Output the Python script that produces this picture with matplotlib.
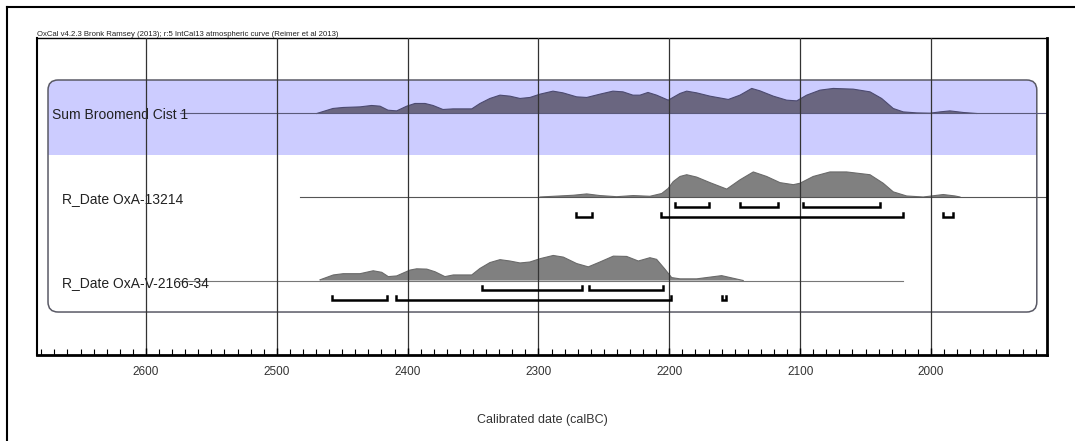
import matplotlib
matplotlib.use("Agg")
import matplotlib.pyplot as plt
from matplotlib.patches import FancyBboxPatch, Rectangle
from matplotlib.lines import Line2D
from matplotlib.ticker import MultipleLocator
import numpy as np

plt.rcParams['font.family'] = ['Liberation Sans', 'DejaVu Sans']

# --- data (calendar years BC, relative probability) ---
title = "OxCal v4.2.3 Bronk Ramsey (2013); r:5 IntCal13 atmospheric curve (Reimer et al 2013)"
labels = ["Sum Broomend Cist 1", "R_Date OxA-13214", "R_Date OxA-V-2166-34"]

sum_years = [2469.5, 2457.1, 2449.4, 2436.4, 2427.5, 2421.1, 2415.0, 2408.4, 2400.7, 2394.4,
             2386.7, 2380.6, 2373.0, 2365.3, 2351.0, 2344.7, 2337.1, 2329.4, 2321.8, 2314.1,
             2306.5, 2298.8, 2288.9, 2281.3, 2270.8, 2263.1, 2253.0, 2243.1, 2235.4, 2227.8,
             2222.4, 2216.3, 2209.7, 2200.8, 2191.8, 2186.7, 2179.1, 2168.9, 2154.9, 2146.0,
             2137.0, 2130.7, 2120.5, 2110.3, 2102.6, 2095.0, 2084.8, 2074.7, 2059.4, 2046.6,
             2037.7, 2028.8, 2021.2, 2010.9, 2000.7, 1993.1, 1985.5, 1975.3, 1965.1]
sum_prob = [0, 5, 6, 6.6, 8, 7.3, 3.3, 2.6, 7.3, 10,
            10, 8, 4, 4.6, 4.6, 10, 15, 18.3, 17.3, 15,
            16, 19.3, 22.3, 20.6, 16.6, 16, 19.3, 22.3, 21.6, 18.3,
            18.3, 21, 18.3, 13.3, 20, 22.3, 20.6, 17.3, 14, 18.3,
            25, 22.6, 17.3, 13.3, 12.6, 18.3, 23.3, 25, 24.3, 21.6,
            15, 5, 1.6, 0.6, 0.3, 1.6, 2.6, 1, 0]

oxa1_years = [2298.8, 2273.4, 2263.1, 2253.0, 2240.2, 2227.5, 2214.8, 2205.8, 2200.8, 2197.0,
              2191.8, 2186.7, 2179.1, 2168.9, 2156.1, 2146.0, 2135.8, 2125.6, 2115.4, 2105.2,
              2100.1, 2090.0, 2077.2, 2064.4, 2046.6, 2036.5, 2028.8, 2018.6, 2005.9, 1990.6,
              1981.6, 1977.8]
oxa1_prob = [0, 1.7, 3, 1.4, 0.3, 1.4, 0.7, 3.4, 8.4, 15,
             20, 21.7, 19.4, 14, 7.7, 16.7, 24.4, 20, 14, 12,
             13.4, 20, 24.4, 24.4, 21.7, 13.4, 5, 1, 0, 2.4,
             1, 0]

oxa2_years = [2467.0, 2456.8, 2449.2, 2436.4, 2426.3, 2419.8, 2414.8, 2408.4, 2398.2, 2393.1,
              2385.4, 2379.1, 2371.5, 2365.1, 2351.0, 2344.7, 2337.1, 2329.4, 2321.8, 2314.1,
              2306.5, 2298.8, 2288.7, 2281.0, 2270.8, 2261.9, 2253.0, 2242.8, 2232.6, 2223.7,
              2214.8, 2209.7, 2203.8, 2198.2, 2191.8, 2179.1, 2160.0, 2143.5]
oxa2_prob = [0.7, 5.7, 7, 7, 10, 8.4, 4, 4.7, 10.7, 12,
             11.7, 9, 4, 5.7, 5.7, 12.4, 18.4, 21.4, 20, 18,
             19, 22.4, 25.7, 24, 17.4, 14, 19, 25, 24.7, 20,
             23.4, 21.7, 12.4, 3, 1.7, 1.7, 5, 0]

# baseline extents (start, end)
line_spans = [(2574, 1911.3), (2482, 1911.3), (2574, 2021)]

# highest posterior density ranges
oxa1_68 = [(2196, 2170), (2146, 2117), (2098, 2039)]
oxa1_95 = [(2271, 2259), (2206, 2021), (1991, 1983)]
oxa2_68 = [(2343, 2267), (2261, 2205)]
oxa2_95 = [(2458, 2416), (2409, 2199), (2160, 2157)]

# --- figure ---
W, H = 1075, 441
fig = plt.figure(figsize=(W / 100, H / 100), dpi=100)
ax = fig.add_axes([37 / W, (H - 355) / H, 1010 / W, 317 / H])
ax.set_xlim(2683.3, 1911.3)
ax.set_ylim(2.892, -0.904)

aspect = 1010 / 317
box_x, box_w = 0.0109, 0.979
box_bot, box_top, band_bot = 0.1356, 0.8675, 0.631
# blue band for the sum: rounded top corners, square bottom
band = FancyBboxPatch((box_x, band_bot), box_w, box_top - band_bot,
                      boxstyle="round,pad=0,rounding_size=0.01", mutation_aspect=aspect,
                      transform=ax.transAxes, facecolor="#ccccff", edgecolor="none", zorder=0.5)
ax.add_patch(band)
ax.add_patch(Rectangle((box_x, band_bot), box_w, 0.06, transform=ax.transAxes,
                       facecolor="#ccccff", edgecolor="none", zorder=0.5))
box = FancyBboxPatch((box_x, box_bot), box_w, box_top - box_bot,
                     boxstyle="round,pad=0,rounding_size=0.01", mutation_aspect=aspect,
                     transform=ax.transAxes, facecolor="none", edgecolor="#5a5a66", lw=1.1, zorder=1)
ax.add_patch(box)

height = 0.30
curves = [(sum_years, sum_prob, "#6a6680", "#4c4a70"),
          (oxa1_years, oxa1_prob, "#808080", "#6a6a6a"),
          (oxa2_years, oxa2_prob, "#808080", "#6a6a6a")]
line_cols = ["#5a5a7a", "#555555", "#777777"]
for i, (yrs, p, fc, ec) in enumerate(curves):
    p = np.array(p, dtype=float)
    top = i - p / p.max() * height
    ax.fill_between(yrs, i, top, facecolor=fc, edgecolor="none", zorder=2)
    ax.plot(yrs, top, color=ec, lw=0.8, zorder=2.1)
    ax.plot(line_spans[i], [i, i], color=line_cols[i], lw=0.8, zorder=2.2)

for i, txt in enumerate(labels):
    xpos = 2672 if i == 0 else 2664.2
    ax.text(xpos, i + (0.018 if i == 0 else 0.03), txt, fontsize=10, va="center",
            ha="left", color="#222222", zorder=2.3)

def brackets(ranges, y):
    for a, b in ranges:
        ax.plot([a, a, b, b], [y - 0.05, y, y, y - 0.05], color="black", lw=1.8,
                solid_joinstyle="miter", zorder=4)

brackets(oxa1_68, 1 + 0.12)
brackets(oxa1_95, 1 + 0.245)
brackets(oxa2_68, 2 + 0.11)
brackets(oxa2_95, 2 + 0.23)

# axis
ax.set_yticks([])
ax.set_xticks(np.arange(2000, 2700, 100))
ax.xaxis.set_minor_locator(MultipleLocator(10))
ax.tick_params(axis="x", which="major", direction="in", length=5, width=1, pad=8,
               labelsize=8.5, labelcolor="#333333")
ax.tick_params(axis="x", which="minor", direction="in", length=4, width=0.8)
ax.set_axisbelow(False)
ax.grid(axis="x", which="major", color="#333333", lw=0.9)
ax.set_xlabel("Calibrated date (calBC)", fontsize=9, color="#333333", labelpad=26)
for side, lw in [("left", 1.5), ("top", 1.0), ("right", 2.0), ("bottom", 2.0)]:
    ax.spines[side].set_linewidth(lw)
    ax.spines[side].set_color("black")

fig.text(37 / W, 1 - 36 / H, title, fontsize=5.6, va="baseline", ha="left", color="#222222")

# outer frame
fig.add_artist(Line2D([7 / W, 1], [1 - 7 / H, 1 - 7 / H], transform=fig.transFigure,
                      color="black", lw=1.5))
fig.add_artist(Line2D([7 / W, 7 / W], [0, 1 - 7 / H], transform=fig.transFigure,
                      color="black", lw=1.5))

fig.savefig("out.png", dpi=100)
